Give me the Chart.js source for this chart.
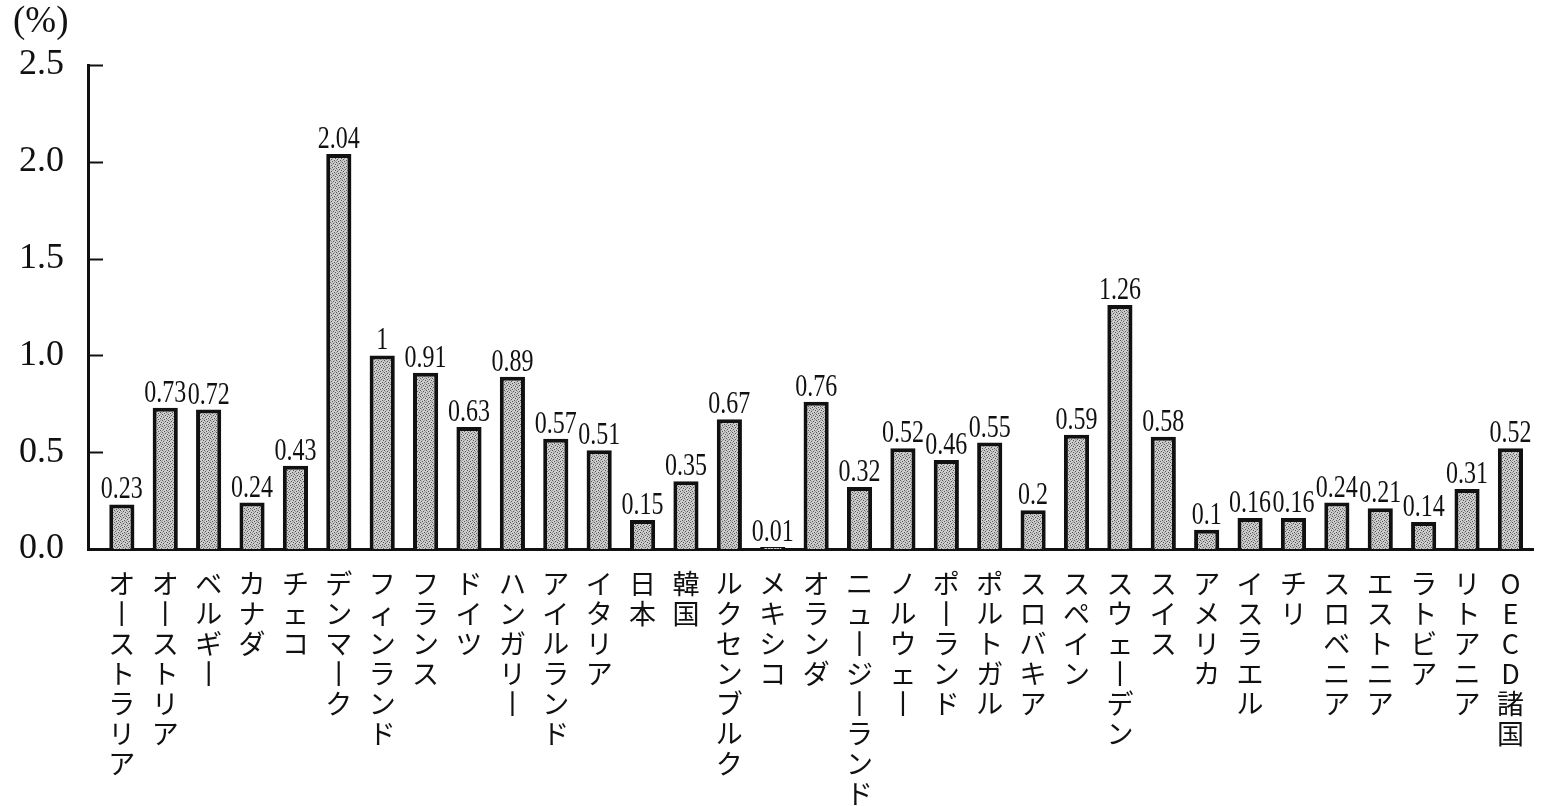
<!DOCTYPE html>
<html>
<head>
<meta charset="utf-8">
<script src="https://cdn.jsdelivr.net/npm/chart.js@4.4.1/dist/chart.umd.min.js"></script>
<style>
  html, body { margin: 0; padding: 0; background: #ffffff; }
  canvas { display: block; }
</style>
</head>
<body>
<canvas id="c" width="1544" height="806"></canvas>
<script>
// ---- data ----
const categories = [
  'オーストラリア','オーストリア','ベルギー','カナダ','チェコ','デンマーク','フィンランド','フランス',
  'ドイツ','ハンガリー','アイルランド','イタリア','日本','韓国','ルクセンブルク','メキシコ',
  'オランダ','ニュージーランド','ノルウェー','ポーランド','ポルトガル','スロバキア','スペイン','スウェーデン',
  'スイス','アメリカ','イスラエル','チリ','スロベニア','エストニア','ラトビア','リトアニア','OECD諸国'
];
const values = [
  0.23, 0.73, 0.72, 0.24, 0.43, 2.04, 1, 0.91,
  0.63, 0.89, 0.57, 0.51, 0.15, 0.35, 0.67, 0.01,
  0.76, 0.32, 0.52, 0.46, 0.55, 0.2, 0.59, 1.26,
  0.58, 0.1, 0.16, 0.16, 0.24, 0.21, 0.14, 0.31, 0.52
];
const yTicks = [0, 0.5, 1.0, 1.5, 2.0, 2.5];
const unitLabel = '(%)';

// ---- stipple pattern for bars ----
function makePattern() {
  const p = document.createElement('canvas');
  p.width = 6; p.height = 6;
  const g = p.getContext('2d');
  g.fillStyle = '#cdcdcd';
  g.fillRect(0, 0, 6, 6);
  g.fillStyle = '#555555';
  const dots = [[0,0],[3,1],[1,3],[4,4],[2,5],[5,2]];
  dots.forEach(d => g.fillRect(d[0], d[1], 1, 1));
  g.fillStyle = '#999999';
  const dots2 = [[2,2],[5,5],[0,4],[4,0],[1,1]];
  dots2.forEach(d => g.fillRect(d[0], d[1], 1, 1));
  return document.getElementById('c').getContext('2d').createPattern(p, 'repeat');
}

// vertical text: one glyph per line, long vowel mark shown upright
function verticalChars(s) {
  return Array.from(s).map(ch => ch === 'ー' ? '丨' : ch);
}

const valueLabelPlugin = {
  id: 'valueLabels',
  afterDatasetsDraw(chart) {
    const ctx = chart.ctx;
    const meta = chart.getDatasetMeta(0);
    ctx.save();
    ctx.fillStyle = '#111';
    ctx.font = '32px "Liberation Serif", "DejaVu Serif", serif';
    ctx.textAlign = 'center';
    ctx.textBaseline = 'alphabetic';
    meta.data.forEach((bar, i) => {
      ctx.save();
      ctx.translate(bar.x, bar.y - 6);
      ctx.scale(0.75, 1);
      ctx.fillText(String(values[i]), 0, 0);
      ctx.restore();
    });
    ctx.restore();
  }
};

const innerTickPlugin = {
  id: 'innerTicks',
  afterDraw(chart) {
    const y = chart.scales.y;
    const ctx = chart.ctx;
    const left = chart.chartArea.left;
    ctx.save();
    ctx.strokeStyle = '#111';
    ctx.lineWidth = 2;
    y.ticks.forEach(t => {
      if (t.value <= 0) return;
      const py = Math.round(y.getPixelForValue(t.value)) + 0.5;
      ctx.beginPath();
      ctx.moveTo(left, py);
      ctx.lineTo(left + 15, py);
      ctx.stroke();
    });
    ctx.restore();
  }
};

const pattern = makePattern();

new Chart(document.getElementById('c'), {
  type: 'bar',
  data: {
    datasets: [{
      data: values.map((v, i) => ({ x: i, y: v })),
      backgroundColor: pattern,
      borderColor: '#111',
      borderWidth: 4,
      borderSkipped: 'start',
      barPercentage: 0.58,
      categoryPercentage: 1.0
    }]
  },
  options: {
    responsive: false,
    animation: false,
    devicePixelRatio: 1,
    layout: { padding: { left: 13, right: 4, top: 0, bottom: 0 } },
    plugins: {
      legend: { display: false },
      tooltip: { enabled: false },
      title: {
        display: true,
        text: unitLabel,
        align: 'start',
        color: '#111',
        font: { family: '"Liberation Serif", serif', size: 37, weight: 'normal', lineHeight: 1.1 },
        padding: { top: 2, bottom: 22.3 }
      }
    },
    scales: {
      x: {
        type: 'linear',
        min: -0.78,
        max: 32.54,
        offset: false,
        grid: { display: false, drawTicks: false, offset: false },
        border: { display: true, color: '#111', width: 3 },
        ticks: {
          stepSize: 1,
          autoSkip: false,
          maxRotation: 0,
          minRotation: 0,
          maxTicksLimit: 100,
          includeBounds: false,
          padding: 20,
          color: '#111',
          font: { family: '"Noto Sans CJK JP", sans-serif', size: 27, lineHeight: '30px' },
          callback: (v) => (Number.isInteger(v) && v >= 0 && v < categories.length) ? verticalChars(categories[v]) : ''
        },
        afterFit: (s) => { s.height = 257; }
      },
      y: {
        min: yTicks[0],
        max: yTicks[yTicks.length - 1],
        grid: { display: false, drawTicks: false },
        border: { display: true, color: '#111', width: 3 },
        ticks: {
          stepSize: yTicks[1] - yTicks[0],
          padding: 24,
          color: '#111',
          font: { family: '"Liberation Serif", serif', size: 36 },
          callback: (v) => Number(v).toFixed(1)
        },
        afterFit: (s) => { s.width = 75; }
      }
    }
  },
  plugins: [valueLabelPlugin, innerTickPlugin]
});
</script>
</body>
</html>
